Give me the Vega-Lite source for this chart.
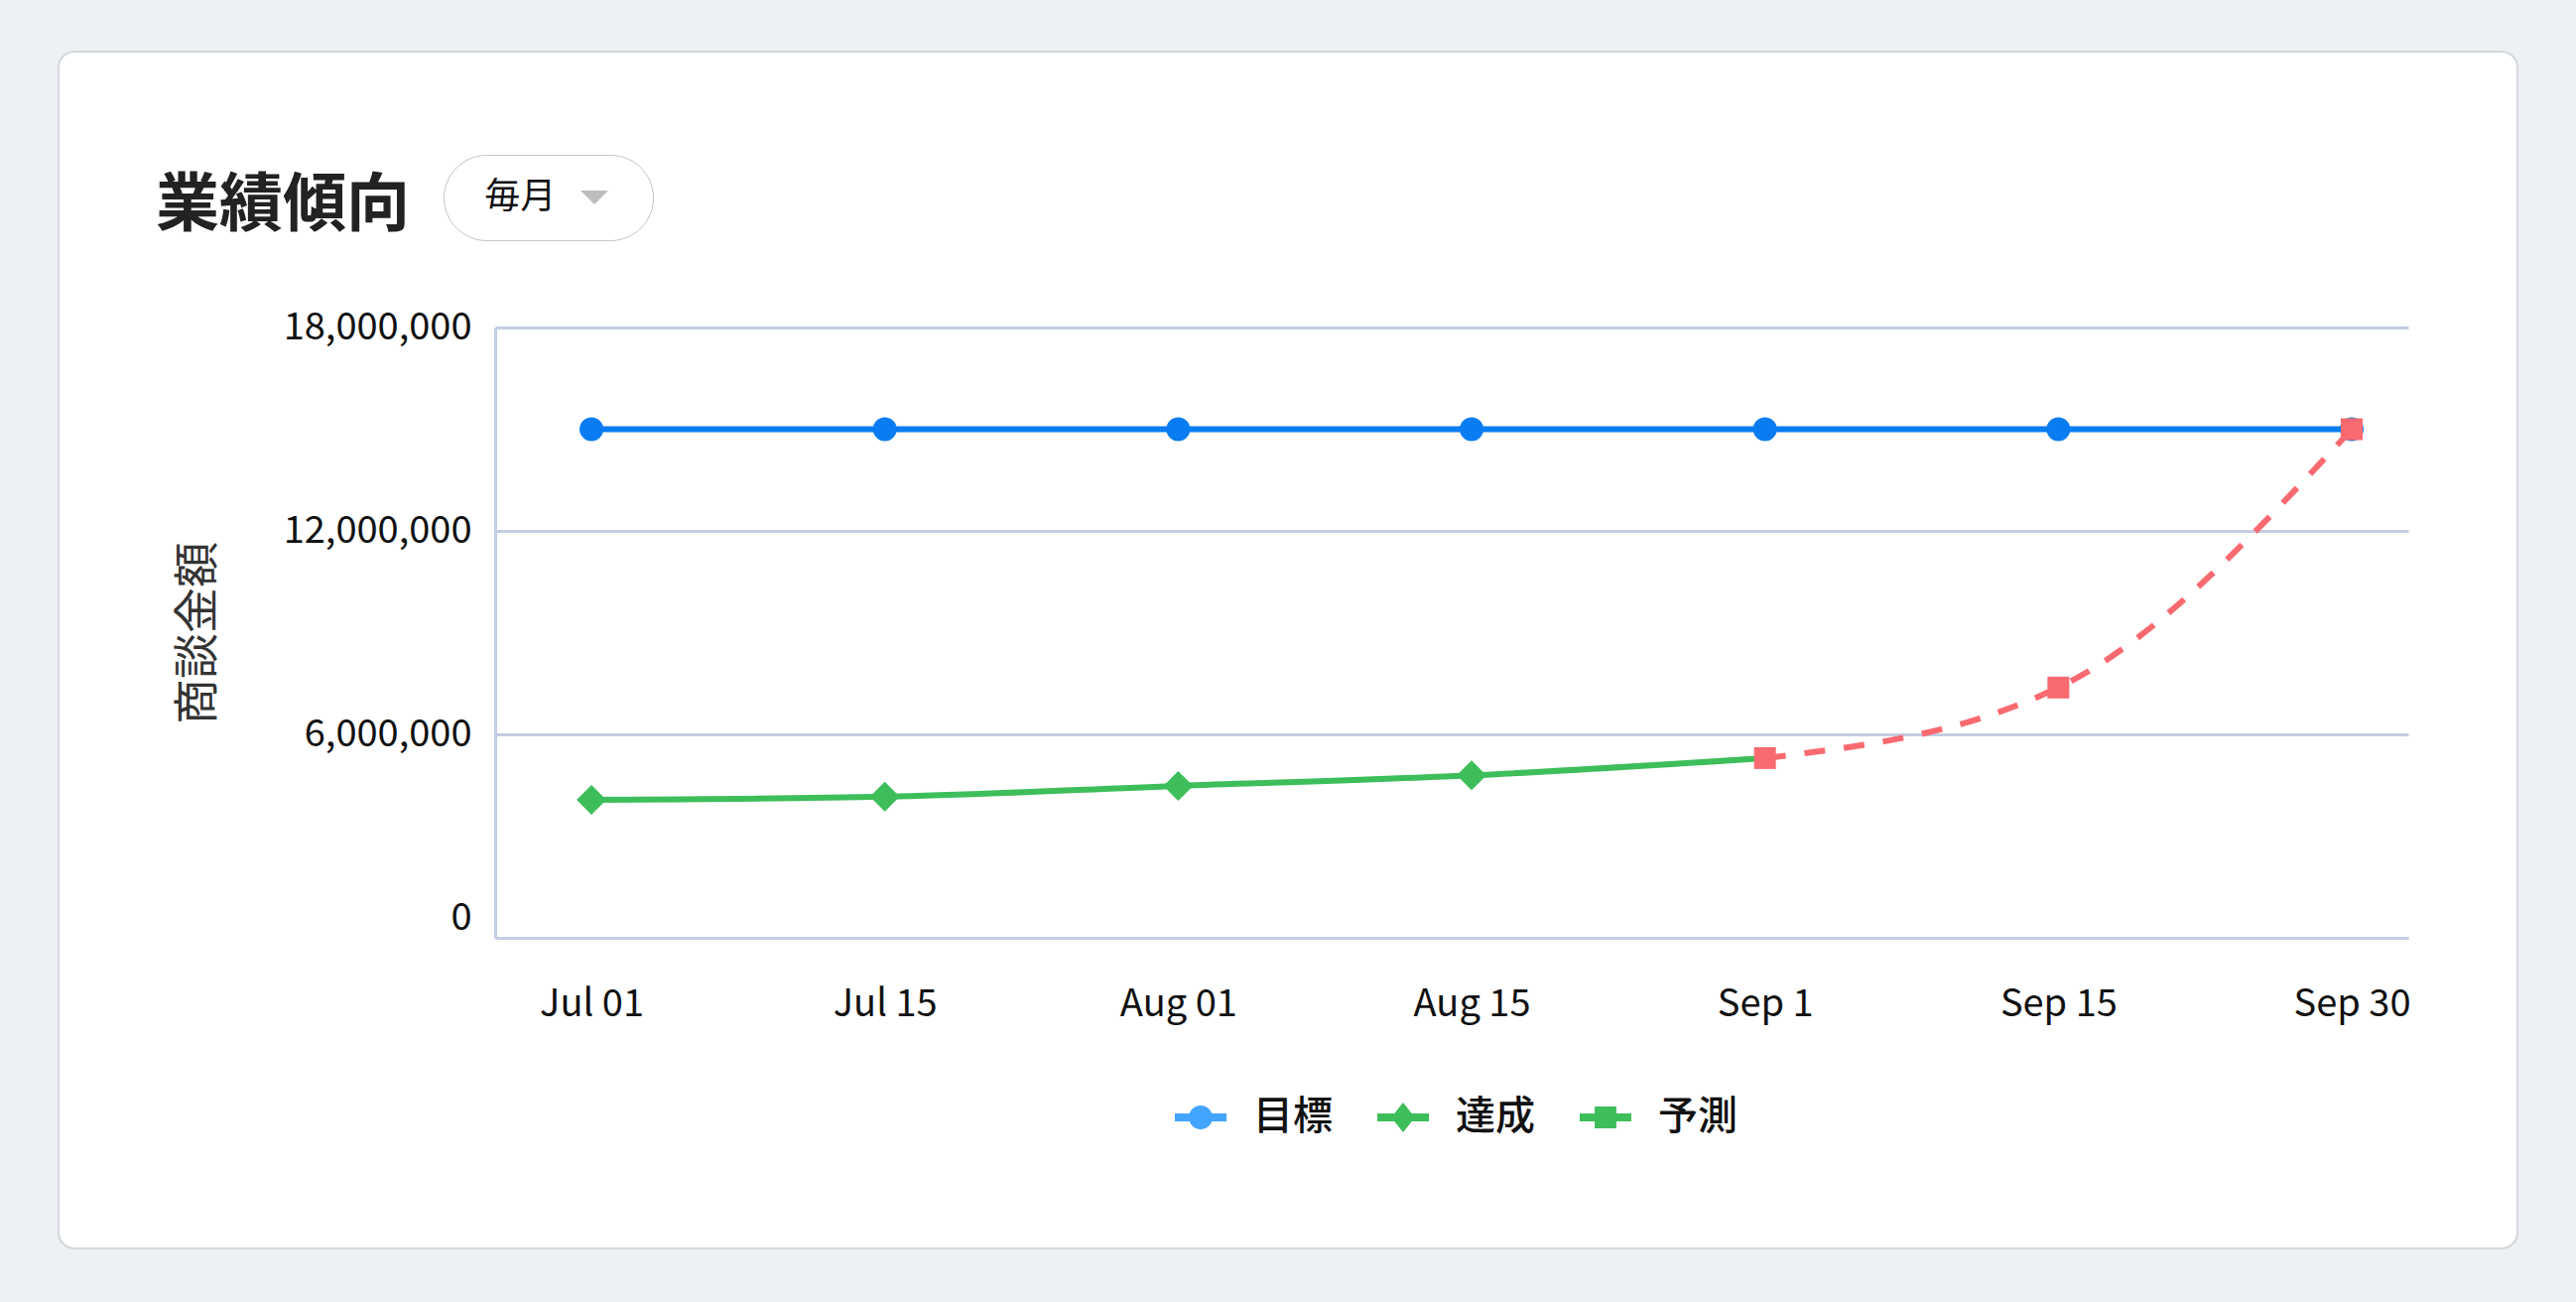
{
  "$schema": "https://vega.github.io/schema/vega-lite/v6.json",
  "width": 2478,
  "height": 1206,
  "autosize": {"type": "none"},
  "padding": {"left": 59, "top": 52, "right": 59, "bottom": 54},
  "background": "#edf1f4",
  "config": {
    "font": "Noto Sans CJK JP",
    "view": {"fill": "#ffffff", "stroke": "#d3d6da", "strokeWidth": 2, "cornerRadius": 16}
  },
  "title": {
    "text": "業績傾向",
    "anchor": "start",
    "frame": "group",
    "orient": "top",
    "offset": -220,
    "baseline": "middle",
    "dx": 98,
    "fontSize": 64,
    "fontWeight": 700,
    "color": "#222222",
    "font": "Noto Sans CJK JP"
  },
  "data": {
    "values": [
      {"day": "Jul 01", "series": "目標", "value": 15000000},
      {"day": "Jul 15", "series": "目標", "value": 15000000},
      {"day": "Aug 01", "series": "目標", "value": 15000000},
      {"day": "Aug 15", "series": "目標", "value": 15000000},
      {"day": "Sep 1", "series": "目標", "value": 15000000},
      {"day": "Sep 15", "series": "目標", "value": 15000000},
      {"day": "Sep 30", "series": "目標", "value": 15000000},
      {"day": "Jul 01", "series": "達成", "value": 4070000},
      {"day": "Jul 15", "series": "達成", "value": 4160000},
      {"day": "Aug 01", "series": "達成", "value": 4480000},
      {"day": "Aug 15", "series": "達成", "value": 4790000},
      {"day": "Sep 1", "series": "達成", "value": 5300000},
      {"day": "Sep 1", "series": "予測", "value": 5300000},
      {"day": "Sep 15", "series": "予測", "value": 7380000},
      {"day": "Sep 30", "series": "予測", "value": 15000000}
    ]
  },
  "encoding": {
    "x": {
      "field": "day",
      "type": "nominal",
      "sort": ["Jul 01", "Jul 15", "Aug 01", "Aug 15", "Sep 1", "Sep 15", "Sep 30"],
      "scale": {
        "type": "point",
        "domain": ["Jul 01", "Jul 15", "Aug 01", "Aug 15", "Sep 1", "Sep 15", "Sep 30"],
        "range": [440, 2368],
        "padding": 0.2605,
        "align": 0.63
      },
      "axis": {
        "offset": -313,
        "domain": true,
        "domainColor": "#c3cde4",
        "domainWidth": 3,
        "grid": false,
        "ticks": false,
        "tickSize": 0,
        "labelPadding": 67,
        "labelBaseline": "middle",
        "labelAngle": 0,
        "labelFontSize": 38,
        "labelColor": "#111111",
        "labelFont": "Noto Sans CJK JP",
        "labelFlush": false,
        "labelOverlap": false,
        "title": null
      }
    },
    "y": {
      "field": "value",
      "type": "quantitative",
      "scale": {"domain": [0, 18000000], "range": [893, 278], "nice": false},
      "axis": {
        "values": [0, 6000000, 12000000, 18000000],
        "format": ",d",
        "offset": -440,
        "domain": true,
        "domainColor": "#c3cde4",
        "domainWidth": 3,
        "grid": true,
        "gridColor": "#c3cde4",
        "gridWidth": 3,
        "ticks": false,
        "tickSize": 0,
        "labelPadding": 24,
        "labelLimit": 600,
        "labelFontSize": 38,
        "labelColor": "#111111",
        "labelFont": "Noto Sans CJK JP",
        "labelOffset": {"condition": {"test": "datum.value === 0", "value": -20}, "value": 0},
        "title": "商談金額",
        "titleFontSize": 46,
        "titleFontWeight": 400,
        "titleColor": "#333333",
        "titleFont": "Noto Sans CJK JP",
        "titleX": -300,
        "titleY": 585.5,
        "titleBaseline": "middle",
        "titleAlign": "center",
        "titleAngle": -90
      }
    }
  },
  "layer": [
    {
      "transform": [{"filter": "datum.series === '目標'"}],
      "mark": {"type": "line", "color": "#0a7cf2", "strokeWidth": 6}
    },
    {
      "transform": [{"filter": "datum.series === '目標'"}],
      "mark": {"type": "point", "shape": "circle", "filled": true, "size": 576, "color": "#0a7cf2", "opacity": 1}
    },
    {
      "transform": [{"filter": "datum.series === '達成'"}],
      "mark": {"type": "line", "interpolate": "monotone", "color": "#3dbe5a", "strokeWidth": 6}
    },
    {
      "transform": [{"filter": "datum.series === '達成' && datum.day !== 'Sep 1'"}],
      "mark": {"type": "point", "shape": "diamond", "filled": true, "size": 900, "color": "#3dbe5a", "opacity": 1}
    },
    {
      "transform": [{"filter": "datum.series === '予測'"}],
      "mark": {"type": "line", "interpolate": "monotone", "color": "#f96a70", "strokeWidth": 6, "strokeDash": [21, 19]}
    },
    {
      "transform": [{"filter": "datum.series === '予測'"}],
      "mark": {"type": "point", "shape": "square", "filled": true, "size": 484, "color": "#f96a70", "opacity": 1}
    },
    {
      "transform": [{"filter": "false"}],
      "mark": {"type": "point", "filled": true, "opacity": 1},
      "encoding": {
        "color": {
          "field": "series",
          "type": "nominal",
          "scale": {"domain": ["目標", "達成", "予測"], "range": ["#42a5ff", "#3dbe5a", "#3dbe5a"]},
          "legend": {
            "title": null, "orient": "none", "legendX": 1125, "legendY": 1048, "direction": "horizontal",
            "symbolSize": 2704, "symbolStrokeWidth": 0, "labelFontSize": 40, "labelFont": "Noto Sans CJK JP",
            "labelFontWeight": 500, "labelColor": "#111111", "labelOffset": 27, "columnPadding": 45, "padding": 0
          }
        },
        "shape": {
          "field": "series",
          "type": "nominal",
          "scale": {
            "domain": ["目標", "達成", "予測"],
            "range": [
              "M-1,-0.15H1V0.15H-1Z M-0.46,0A0.46,0.46 0 1 1 0.46,0A0.46,0.46 0 1 1 -0.46,0Z",
              "M-1,-0.15H1V0.15H-1Z M0,-0.58L0.46,0L0,0.58L-0.46,0Z",
              "M-1,-0.15H1V0.15H-1Z M-0.42,-0.42H0.42V0.42H-0.42Z"
            ]
          },
          "legend": {
            "title": null, "orient": "none", "legendX": 1125, "legendY": 1048, "direction": "horizontal",
            "symbolSize": 2704, "symbolStrokeWidth": 0, "labelFontSize": 40, "labelFont": "Noto Sans CJK JP",
            "labelFontWeight": 500, "labelColor": "#111111", "labelOffset": 27, "columnPadding": 45, "padding": 0
          }
        }
      }
    },
    {
      "transform": [{"filter": "false"}],
      "mark": {"type": "point", "filled": true, "opacity": 1, "color": "#bdbdbd", "shape": "M-1,-0.5L1,-0.5L0,0.5Z M2.4,0"},
      "encoding": {
        "opacity": {
          "field": "period",
          "type": "ordinal",
          "scale": {"domain": ["毎月"], "range": [1]},
          "legend": {
            "title": "\u200b\u00a0\u00a0毎月",
            "titleOrient": "left",
            "titleFontSize": 36,
            "titleFontWeight": 400,
            "titleColor": "#111111",
            "titleFont": "Noto Sans CJK JP",
            "titlePadding": 20,
            "titleAnchor": "middle",
            "titleBaseline": "middle",
            "orient": "none", "legendX": 388, "legendY": 104,
            "symbolSize": 784, "symbolStrokeWidth": 0,
            "symbolType": "M-1,-0.5L1,-0.5L0,0.5Z M2.4,0", "symbolFillColor": "#bdbdbd",
            "labelExpr": "''",
            "labelFontSize": 36, "labelFont": "Noto Sans CJK JP", "labelColor": "#111111", "labelOffset": 0,
            "padding": 25, "strokeColor": "#c4c4c4", "fillColor": "#ffffff", "cornerRadius": 43,
            "encode": {
              "legend": {"update": {"strokeWidth": {"value": 2}}},
              "symbols": {"update": {"fill": {"value": "#bdbdbd"}, "opacity": {"value": 1}, "shape": {"value": "M-1,-0.5L1,-0.5L0,0.5Z M2.4,0"}}}
            }
          }
        }
      }
    }
  ]
}
